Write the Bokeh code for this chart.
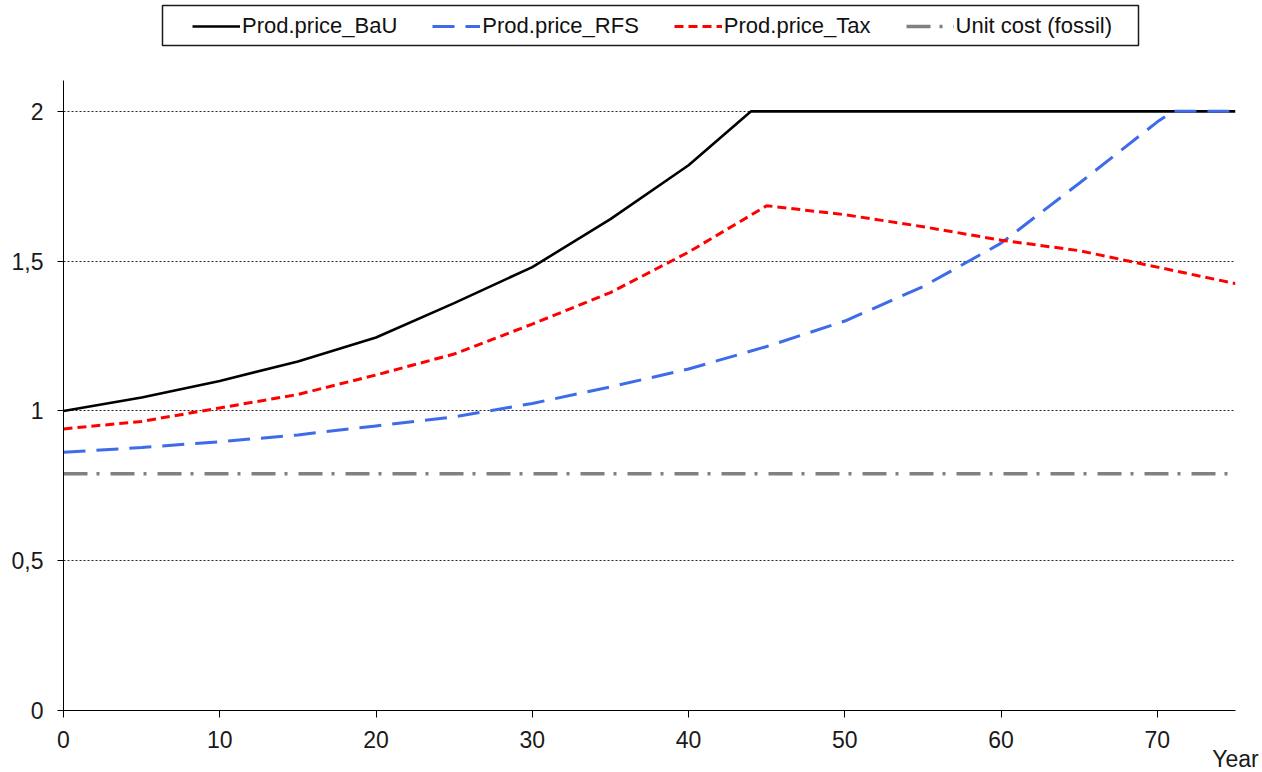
from bokeh.plotting import figure
from bokeh.models import (FixedTicker, CustomJSTickFormatter, Legend, LegendItem,
                          Range1d, BoxAnnotation)
from bokeh.embed import file_html
from bokeh.resources import INLINE

# ---- data ----
years_bau = [0, 5, 10, 15, 20, 25, 30, 35, 40, 44, 75]
price_bau = [1.0, 1.045, 1.10, 1.165, 1.245, 1.36, 1.48, 1.64, 1.82, 2.0, 2.0]

years_rfs = [0, 5, 10, 15, 20, 25, 30, 35, 40, 45, 50, 55, 60, 65, 70, 71, 75]
price_rfs = [0.862, 0.878, 0.897, 0.92, 0.95, 0.98, 1.025, 1.08, 1.14, 1.215,
             1.30, 1.415, 1.56, 1.76, 1.965, 2.0, 2.0]

years_tax = [0, 5, 10, 15, 20, 25, 30, 35, 40, 45, 50, 55, 60, 65, 70, 75]
price_tax = [0.94, 0.965, 1.01, 1.055, 1.12, 1.19, 1.29, 1.395, 1.53, 1.685,
             1.655, 1.615, 1.57, 1.535, 1.48, 1.425]

years_cost = [0, 75]
unit_cost = [0.79, 0.79]

x_ticks = [0, 10, 20, 30, 40, 50, 60, 70]
y_ticks = [0, 0.5, 1, 1.5, 2]

series_names = ["Prod.price_BaU", "Prod.price_RFS", "Prod.price_Tax", "Unit cost (fossil)"]
x_title = "Year"

FONT = "Liberation Sans"
FS = "23px"
LFS = "22px"

# ---- layout (pixels) ----
FRAME_L, FRAME_W = 63, 1172
FRAME_H = 710            # frame spans from page top to the x axis
X_MAX = 75
Y_TOP = 2.37             # value at the top of the page
Y_AXIS_TOP = 2.1035      # where the drawn y axis line stops


def px_to_x(px):
    return (px - FRAME_L) * X_MAX / FRAME_W


def py_to_y(py):
    return (FRAME_H - py) * Y_TOP / FRAME_H


p = figure(frame_width=FRAME_W, frame_height=FRAME_H,
           x_range=Range1d(0, X_MAX), y_range=Range1d(0, Y_TOP),
           output_backend="svg", toolbar_location=None,
           min_border_left=FRAME_L, min_border_right=27,
           min_border_top=0, min_border_bottom=62)
p.outline_line_color = None
p.background_fill_color = "white"

r_cost = p.line(years_cost, unit_cost, line_color="#808080", line_width=3.5,
                line_dash="24 9 3 11")
r_bau = p.line(years_bau, price_bau, line_color="black", line_width=2.6)
r_rfs = p.line(years_rfs, price_rfs, line_color="#3D6BEA", line_width=3,
               line_dash="22 11")
r_tax = p.line(years_tax, price_tax, line_color="#FF0000", line_width=3,
               line_dash="9 5")

for ax in (p.xaxis[0], p.yaxis[0]):
    ax.axis_line_color = "black"
    ax.axis_line_width = 1
    ax.major_tick_line_color = "black"
    ax.major_tick_in = 0
    ax.minor_tick_line_color = None
    ax.major_label_text_font = FONT
    ax.major_label_text_font_size = FS
    ax.major_label_text_color = "#1a1a1a"

xa = p.xaxis[0]
xa.ticker = FixedTicker(ticks=x_ticks)
xa.major_tick_out = 7
xa.major_label_standoff = 13
xa.axis_label = x_title
xa.axis_label_text_font = FONT
xa.axis_label_text_font_size = FS
xa.axis_label_text_font_style = "normal"
xa.axis_label_text_color = "#1a1a1a"
xa.axis_label_standoff = -5
if "axis_label_align" in xa.properties():
    xa.axis_label_align = "end"

ya = p.yaxis[0]
ya.ticker = FixedTicker(ticks=y_ticks)
ya.bounds = (0, Y_AXIS_TOP)
ya.major_tick_out = 6
ya.major_label_standoff = 14
ya.formatter = CustomJSTickFormatter(code="return tick.toString().replace('.', ',');")

p.xgrid.visible = False
p.ygrid.grid_line_color = "#222222"
p.ygrid.grid_line_width = 1
p.ygrid.grid_line_dash = "2 2"

# legend frame box (page pixels 162..1138 x 5..45)
box = BoxAnnotation(left=px_to_x(162), right=px_to_x(1138),
                    top=py_to_y(5), bottom=py_to_y(45),
                    fill_color="white", fill_alpha=1,
                    line_color="#1a1a1a", line_alpha=1, line_width=1.5)
p.add_layout(box)

legend = Legend(items=[LegendItem(label=series_names[0], renderers=[r_bau]),
                       LegendItem(label=series_names[1], renderers=[r_rfs]),
                       LegendItem(label=series_names[2], renderers=[r_tax]),
                       LegendItem(label=series_names[3], renderers=[r_cost])],
                orientation="horizontal", location=(129, FRAME_H - 39),
                glyph_width=48, glyph_height=20, label_standoff=2,
                spacing=35, padding=7, margin=0,
                border_line_color=None, background_fill_alpha=0,
                label_text_font=FONT, label_text_font_size=LFS,
                label_text_color="#111111")
p.add_layout(legend)

open("out.html", "w").write(file_html(p, INLINE))
